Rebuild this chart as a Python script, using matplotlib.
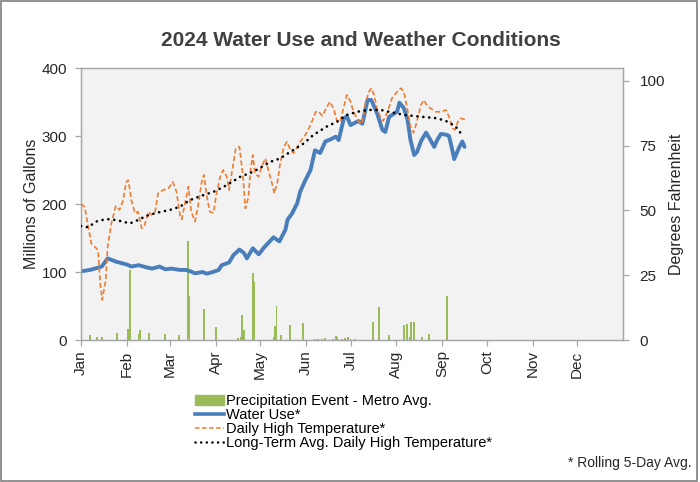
import matplotlib
matplotlib.use("Agg")
import matplotlib.pyplot as plt
import matplotlib.dates as mdates
from matplotlib.patches import Patch, Rectangle
from matplotlib.lines import Line2D
import pandas as pd

plt.rcParams['font.family'] = ['Liberation Sans', 'DejaVu Sans']

START = pd.Timestamp('2024-01-01')

# ---- data (day offsets from Jan 1, 2024) ----
water_day = [0, 6, 11, 14, 18, 24, 31, 34, 39, 44, 48, 53, 57, 61, 67, 71, 74, 77, 82, 85,
             89, 93, 95, 100, 103, 107, 110, 112, 116, 120, 124, 130, 134, 138, 139.5, 142.5,
             146, 148, 151.5, 155, 158, 161.5, 165, 168.5, 172, 174, 177.5, 179.5, 182, 185.5,
             187.5, 190, 193.5, 196, 200, 203.5, 205.5, 208, 211.5, 213.5, 215, 218, 220.5,
             222.5, 225, 227, 229.5, 233, 236, 238.5, 240.5, 243, 246.5, 248.5, 251, 252,
             255.5, 257.5, 259]
water_use = [101, 103, 106, 108, 120, 115, 111, 108, 110, 107, 105, 108, 104, 105, 103, 103,
             101, 98, 100, 97.5, 100, 103, 110, 114, 125, 133, 128, 120, 135, 126, 137, 151,
             145, 162, 177, 186, 201, 218, 235, 250, 279, 275, 292, 295, 299, 294, 326, 329,
             316, 320, 322, 318, 353, 353, 333, 309, 306, 328, 333, 336, 349, 341, 324, 294,
             272, 277, 292, 305, 294, 284, 294, 303, 302, 300, 277, 266, 284, 292, 284]

temp_day = [0, 2.5, 4.5, 7, 9, 11.5, 13, 14.3, 16.7, 18, 20.5, 23.5, 26, 28.5, 30.5, 32, 34,
            36.5, 38.5, 41, 43, 45.5, 47.5, 50, 52, 55.5, 59, 62, 64.5, 67, 68, 70, 72.5, 74.5,
            77, 79, 81.5, 83, 85, 87, 89.5, 91.5, 94, 96, 98.5, 100, 102.5, 104.5, 107, 109.5,
            111, 113, 114.5, 116, 117.5, 120, 122, 124.5, 126.5, 129, 130.5, 132.5, 134.5, 137,
            139, 141.5, 143.5, 146, 148, 151.5, 155, 158.5, 160.5, 163, 165, 168, 170.5, 173,
            175, 177.5, 179.5, 182, 184, 187.5, 190, 192, 194.5, 196, 198, 200, 202.5, 204,
            207, 210, 213.5, 216, 218, 220.5, 222.5, 224.5, 226.5, 229.5, 231.5, 234, 236,
            239.5, 243, 246.5, 248.5, 251, 252.5, 254.5, 256.5, 259.5]
temp_high = [52.6, 51.3, 45, 37.2, 36.2, 34.7, 21.9, 15.5, 23, 36, 45, 51.7, 50.2, 54, 61,
             61.7, 54, 48.9, 49.5, 43.1, 44.4, 49.5, 48.3, 49.5, 56.6, 57.9, 58.5, 61, 57.2,
             47.6, 46.6, 52, 59.2, 49.5, 45.7, 51.5, 61, 63.7, 55.3, 49.5, 49.1, 56.6, 63,
             65.6, 63, 57.9, 66.9, 74, 74.6, 62.5, 50.8, 55, 65.6, 71.4, 64.3, 63, 66.9, 70.1,
             65.6, 60.5, 56.6, 60.5, 68.2, 74.6, 76.5, 73.4, 72.1, 74.4, 76.5, 79.2, 83, 88.1,
             88.1, 86.5, 88.8, 92, 89.5, 84.3, 84.3, 90.1, 94.6, 92, 88.1, 84.3, 83.6, 91.4,
             95.9, 97.2, 94.5, 89, 85.7, 84.5, 88, 93.3, 95.9, 97.2, 95.9, 88.8, 82.4, 80,
             83.6, 90.7, 92.6, 90.1, 89.5, 88.1, 88.1, 88.8, 86.2, 81.7, 81.1, 84.3, 85.6, 85]

avg_day = [0, 5, 10, 17, 24, 33, 38.5, 44, 51, 60, 67, 73.5, 82.5, 89.5, 98.5, 107.5, 116.5,
           128, 134.5, 141.5, 150.5, 157, 166, 173, 179.5, 186.5, 193.5, 202.5, 208, 218,
           229.5, 240.5, 247.5, 253, 256.5, 258.5]
avg_high = [44, 43.5, 45.7, 46.7, 46.3, 45, 46.3, 47.9, 49.1, 50.2, 51.5, 54, 55.9, 57.2,
            59.8, 63, 65, 68.8, 70.1, 72.7, 75.9, 79.2, 82.4, 84.3, 86.9, 88.1, 88.8, 88.8,
            88.1, 86.9, 86.2, 85.6, 84.3, 82.4, 79.8, 78.5]

precip_day = [6, 11, 14, 24, 32, 33, 39, 40, 46, 57, 66, 72, 73, 83, 91, 106, 108, 109, 110,
              116, 117, 130, 131, 132, 135, 141, 150, 158, 160, 163, 165, 170, 172, 173, 176,
              178, 180, 182, 185, 197, 201, 208, 218, 220, 222, 223, 225, 230, 235, 247]
precip = [7, 4, 4, 11, 16, 103, 9, 15, 10, 9, 7, 146, 64, 45, 19, 3, 5, 37, 15, 99, 85, 5,
          20, 50, 8, 22, 25, 2, 2, 1, 3, 2, 6, 4, 2, 3, 4, 2, 1, 26, 49, 7, 22, 24, 5, 26, 27,
          5, 9, 65]

month_labels = ['Jan', 'Feb', 'Mar', 'Apr', 'May', 'Jun', 'Jul', 'Aug', 'Sep', 'Oct', 'Nov', 'Dec']


def to_dates(days):
    return [START + pd.Timedelta(days=d) for d in days]


GREEN = '#9bbb59'
BLUE = '#4a7ebb'
ORANGE = '#ed7d31'
GREY = '#a6a6a6'
TXT = '#262626'
DOT = (0, (0.05, 2.2))

fig = plt.figure(figsize=(7.0, 4.82), dpi=100)
ax = fig.add_axes([81 / 700, 1 - 340 / 482, (623 - 81) / 700, (340 - 68) / 482])
ax.set_facecolor('#f2f2f2')
ax2 = ax.twinx()

ax.bar(to_dates(precip_day), precip, width=1.3, color=GREEN, zorder=2, align='center',
       linewidth=0)
ax.plot(to_dates(water_day), water_use, color=BLUE, lw=2.8, zorder=4,
        solid_capstyle='round', solid_joinstyle='round')
ax2.plot(to_dates(temp_day), temp_high, color=ORANGE, lw=1.2, ls=(0, (3, 1.6)), zorder=3)
ax2.plot(to_dates(avg_day), avg_high, color='black', lw=1.9, ls=DOT,
         dash_capstyle='round', zorder=3)

ax.set_ylim(0, 400)
ax.set_yticks([0, 100, 200, 300, 400])
ax2.set_ylim(0, 105)
ax2.set_yticks([0, 25, 50, 75, 100])
ax.set_xlim(START, pd.Timestamp('2025-01-01'))
ax.set_xticks(to_dates([0]) + [pd.Timestamp(f'2024-{m:02d}-01') for m in range(2, 13)])
ax.set_xticklabels(month_labels, rotation=90)

for a in (ax, ax2):
    for s in a.spines.values():
        s.set_color(GREY)
        s.set_linewidth(0.9)
    a.tick_params(colors=GREY, labelcolor=TXT, labelsize=11, length=4, width=0.9)
ax.tick_params(axis='y', pad=6)
ax2.tick_params(axis='y', pad=8)

ax.set_ylabel('Millions of Gallons', fontsize=11.5, color=TXT, labelpad=2)
ax2.set_ylabel('Degrees Fahrenheit', fontsize=11.5, color=TXT, labelpad=3)

fig.text(0.515, 1 - 40 / 482, '2024 Water Use and Weather Conditions', ha='center', va='center',
         fontsize=15, fontweight='bold', color='#404040')

handles = [Patch(facecolor=GREEN, edgecolor=GREEN),
           Line2D([], [], color=BLUE, lw=2.6),
           Line2D([], [], color=ORANGE, lw=1.1, ls=(0, (3, 1.6))),
           Line2D([], [], color='black', lw=1.8, ls=DOT, dash_capstyle='round')]
labels = ['Precipitation Event - Metro Avg.', 'Water Use*', 'Daily High Temperature*',
          'Long-Term Avg. Daily High Temperature*']
fig.legend(handles, labels, loc='upper left', bbox_to_anchor=(195 / 700, 1 - 394 / 482),
           frameon=False, fontsize=10.5, handlelength=2.0, handleheight=0.7, handletextpad=0.1,
           labelspacing=0.0, borderaxespad=0, borderpad=0)

fig.text(692 / 700, 1 - 463 / 482, '* Rolling 5-Day Avg.', ha='right', va='center',
         fontsize=10, color=TXT)

fig.patches.append(Rectangle((0.002, 0.003), 0.994, 0.994, transform=fig.transFigure,
                             fill=False, edgecolor='#7f7f7f', lw=1.2))

fig.savefig('out.png', dpi=100)
